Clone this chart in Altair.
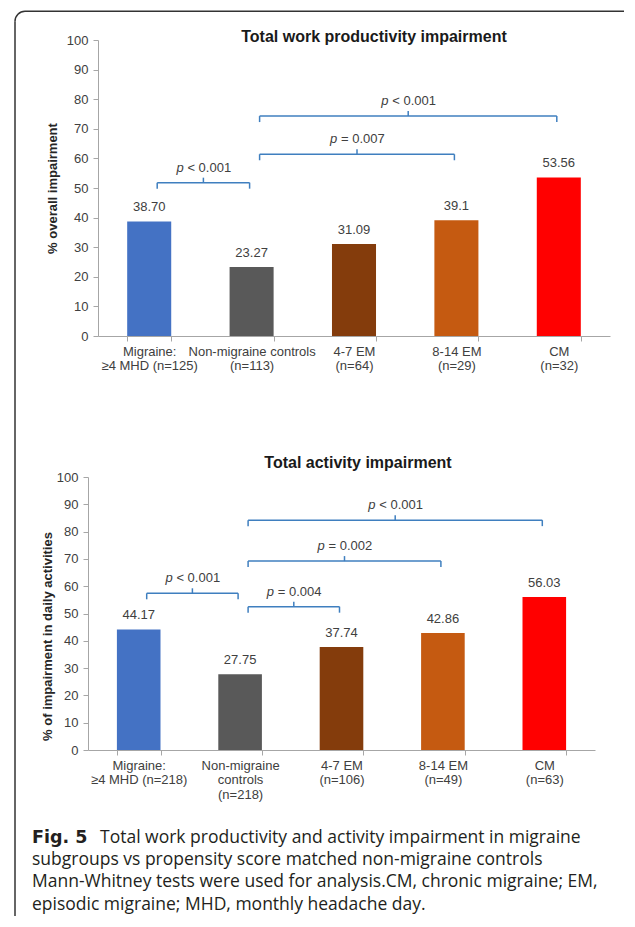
import altair as alt
import pandas as pd

# ---------------- data ----------------
top_groups = ["Migraine:\n≥4 MHD (n=125)", "Non-migraine controls\n(n=113)",
              "4-7 EM\n(n=64)", "8-14 EM\n(n=29)", "CM\n(n=32)"]
top_values = [38.70, 23.27, 31.09, 39.1, 53.56]
top_value_labels = ["38.70", "23.27", "31.09", "39.1", "53.56"]

bot_groups = ["Migraine:\n≥4 MHD (n=218)", "Non-migraine\ncontrols\n(n=218)",
              "4-7 EM\n(n=106)", "8-14 EM\n(n=49)", "CM\n(n=63)"]
bot_values = [44.17, 27.75, 37.74, 42.86, 56.03]
bot_value_labels = ["44.17", "27.75", "37.74", "42.86", "56.03"]

bar_colors = ["#4472C4", "#595959", "#843C0C", "#C55A11", "#FF0000"]

# significance comparisons (group index from / to, bracket level, p text)
top_cmp_from = [0, 1, 1]
top_cmp_to = [1, 3, 4]
top_cmp_level = [51.8, 61.4, 74.3]
top_cmp_p = ["< 0.001", "= 0.007", "< 0.001"]

bot_cmp_from = [0, 1, 1, 1]
bot_cmp_to = [1, 2, 3, 4]
bot_cmp_level = [57.4, 52.5, 69.2, 84.2]
bot_cmp_p = ["< 0.001", "= 0.004", "= 0.002", "< 0.001"]

y_ticks = list(range(0, 101, 10))

top_title = "Total work productivity impairment"
bot_title = "Total activity impairment"
top_ytitle = "% overall impairment"
bot_ytitle = "% of impairment  in daily activities"

caption_bold = "Fig. 5"
caption_first = "Total work productivity and activity impairment in migraine"
caption_rest = [
    "subgroups vs propensity score matched non-migraine controls",
    "Mann-Whitney tests were used for analysis.CM, chronic migraine; EM,",
    "episodic migraine; MHD, monthly headache day.",
]

# ---------------- styles ----------------
AX_FONT = "Liberation Sans"
CAP_FONT = "Open Sans"
AXC = "#A6A6A6"
LBL = "#404040"
BR = "#3F7FBF"
BC = "#333333"
CAP_SIZE = 17.5


def panel(groups, values, vlabels, cf, ct, cl, cp, width, height, x0,
          title, title_xy, ytitle, ytitle_pad, ytitle_y, yoffset):
    df = pd.DataFrame({"group": groups, "value": values, "label": vlabels})
    xs = alt.Scale(domain=groups, range=[x0, width], paddingInner=0.57, paddingOuter=0.285)
    ys = alt.Scale(domain=[0, 100], nice=False, zero=True)
    yax = dict(values=y_ticks, title=ytitle, titleFont=AX_FONT, titleFontSize=13,
               titleFontWeight="bold", titleColor="#262626", titlePadding=ytitle_pad,
               offset=yoffset, domainColor=AXC, tickColor=AXC, tickSize=5,
               labelPadding=5, labelFont=AX_FONT, labelFontSize=13, labelColor=LBL,
               grid=False, labelOverlap=False)
    if ytitle_y is not None:
        yax["titleY"] = ytitle_y
    yaxis = alt.Axis(**yax)

    def Y(field):
        return alt.Y(field, scale=ys, axis=yaxis)

    bars = alt.Chart(df).mark_bar().encode(
        x=alt.X("group:N", sort=groups, scale=xs,
                axis=alt.Axis(title=None, labelAngle=0,
                              labelExpr="split(datum.label, '\\n')",
                              tickBand="extent", domainColor=AXC, tickColor=AXC,
                              tickSize=5, labelPadding=4, labelFont=AX_FONT,
                              labelFontSize=13, labelColor=LBL, labelLineHeight=14.5,
                              labelBaseline="top", labelOverlap=False)),
        y=Y("value:Q"),
        color=alt.Color("group:N", scale=alt.Scale(domain=groups, range=bar_colors),
                        legend=None),
    )
    vtext = alt.Chart(df).mark_text(dy=-14, baseline="middle", font=AX_FONT,
                                    fontSize=13, color=LBL).encode(
        x=alt.X("group:N", sort=groups, scale=xs),
        y=Y("value:Q"),
        text="label:N",
    )
    main = alt.layer(bars, vtext)

    bdf = pd.DataFrame({"start": [f + 0.5 for f in cf], "end": [t + 0.5 for t in ct],
                        "value": cl, "p": cp})
    bdf["mid"] = (bdf["start"] + bdf["end"]) / 2
    bxs = alt.Scale(domain=[0, 5], range=[x0, width], nice=False, zero=False)
    base = alt.Chart(bdf)
    hl = base.mark_rule(color=BR, strokeWidth=1.5, xOffset=8, x2Offset=-2).encode(
        x=alt.X("start:Q", scale=bxs, axis=None), x2="end:Q", y=Y("value:Q"))
    le = base.mark_rule(color=BR, strokeWidth=1.5, xOffset=8, y2Offset=6).encode(
        x=alt.X("start:Q", scale=bxs, axis=None), y=Y("value:Q"), y2="value:Q")
    re = base.mark_rule(color=BR, strokeWidth=1.5, xOffset=-2, y2Offset=6).encode(
        x=alt.X("end:Q", scale=bxs, axis=None), y=Y("value:Q"), y2="value:Q")
    mt = base.mark_rule(color=BR, strokeWidth=1.5, xOffset=3, y2Offset=-5).encode(
        x=alt.X("mid:Q", scale=bxs, axis=None), y=Y("value:Q"), y2="value:Q")
    pt = base.mark_text(text="p", fontStyle="italic", align="left", baseline="middle",
                        dx=-24, dy=-15, font=AX_FONT, fontSize=13, color=LBL).encode(
        x=alt.X("mid:Q", scale=bxs, axis=None), y=Y("value:Q"))
    rt = base.mark_text(align="left", baseline="middle", dx=-13, dy=-15, font=AX_FONT,
                        fontSize=13, color=LBL).encode(
        x=alt.X("mid:Q", scale=bxs, axis=None), y=Y("value:Q"), text="p:N")
    brackets = alt.layer(hl, le, re, mt, pt, rt)

    tdf = pd.DataFrame({"t": [title]})
    ttl = alt.Chart(tdf).mark_text(font=AX_FONT, fontSize=16, fontWeight="bold",
                                   color="#1a1a1a", baseline="middle").encode(
        x=alt.value(title_xy[0]), y=alt.value(title_xy[1]), text="t:N")

    return alt.layer(main, brackets, ttl).resolve_scale(x="independent").properties(
        width=width, height=height)


top = panel(top_groups, top_values, top_value_labels, top_cmp_from, top_cmp_to,
            top_cmp_level, top_cmp_p, 522, 296, 10, top_title, (286, -3),
            top_ytitle, 6.5, None, -10)

bot = panel(bot_groups, bot_values, bot_value_labels, bot_cmp_from, bot_cmp_to,
            bot_cmp_level, bot_cmp_p, 507, 273, 0, bot_title, (270, -14),
            bot_ytitle, 2, 159, 0)

# frame of the figure (drawn in the top panel's coordinates)
one = pd.DataFrame({"k": [0]})
frame_top = alt.Chart(one).mark_rule(color=BC, strokeWidth=1.5).encode(
    x=alt.value(-63), x2=alt.value(536), y=alt.value(-28.7))
frame_left = alt.Chart(one).mark_rule(color=BC, strokeWidth=1.5).encode(
    x=alt.value(-73), y=alt.value(-18.7), y2=alt.value(876))
frame_arc = alt.Chart(one).mark_arc(theta=4.7124, theta2=6.2832, radius=10, radius2=10,
                                    fillOpacity=0, stroke=BC, strokeWidth=1.5).encode(
    x=alt.value(-63), y=alt.value(-18.7))
top = alt.layer(top, frame_top, frame_left, frame_arc)

# caption (drawn in the bottom panel's coordinates)
cap_b = alt.Chart(one).mark_text(text=caption_bold, font="DejaVu Sans", fontSize=17.5,
                                 fontWeight="bold", color="#231F20", align="left",
                                 baseline="alphabetic").encode(
    x=alt.value(-56), y=alt.value(365.5))
cap_1 = alt.Chart(one).mark_text(text=caption_first, font=CAP_FONT, fontSize=CAP_SIZE,
                                 color="#231F20", align="left",
                                 baseline="alphabetic").encode(
    x=alt.value(12), y=alt.value(365.5))
cap_r = alt.Chart(one).mark_text(text=caption_rest, font=CAP_FONT, fontSize=CAP_SIZE,
                                 lineHeight=22.4, color="#231F20", align="left",
                                 baseline="alphabetic").encode(
    x=alt.value(-56), y=alt.value(387.8))
bot = alt.layer(bot, cap_b, cap_1, cap_r)

chart = alt.vconcat(top, bot, spacing=141, bounds="flush").properties(
    padding={"left": 4, "top": 0, "right": 0, "bottom": 3}
).configure_view(stroke=None)

chart.save("out.html", embed_options={"renderer": "svg", "actions": False})
